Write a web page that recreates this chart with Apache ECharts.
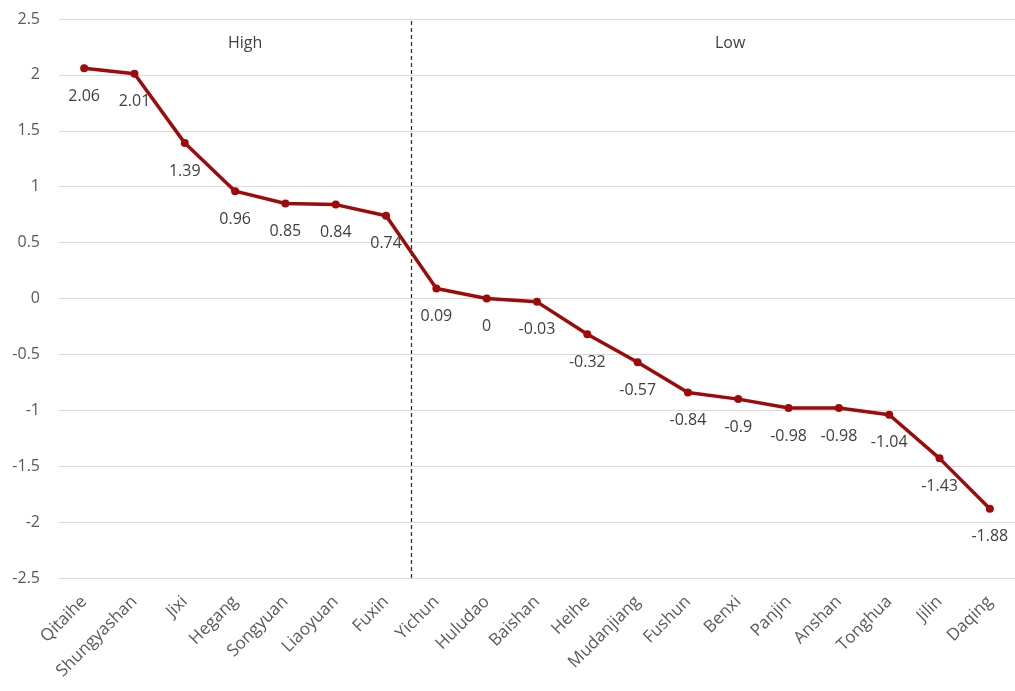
<!DOCTYPE html>
<html><head><meta charset="utf-8">
<script src="https://cdn.jsdelivr.net/npm/echarts@6/dist/echarts.min.js"></script>
<style>html,body{margin:0;padding:0;background:#fff}#c{width:1015px;height:691px}</style>
</head><body><div id="c"></div>
<script>
const categories = ["Qitaihe","Shungyashan","Jixi","Hegang","Songyuan","Liaoyuan","Fuxin","Yichun","Huludao","Baishan","Heihe","Mudanjiang","Fushun","Benxi","Panjin","Anshan","Tonghua","Jilin","Daqing"];
const values = [2.06,2.01,1.39,0.96,0.85,0.84,0.74,0.09,0,-0.03,-0.32,-0.57,-0.84,-0.9,-0.98,-0.98,-1.04,-1.43,-1.88];
const groupLabels = ["High","Low"];
const dividerIndex = 6.5;

const chart = echarts.init(document.getElementById('c'));
const font = '"Open Sans", "Liberation Sans", sans-serif';
chart.setOption({
  animation: false,
  backgroundColor: '#fff',
  grid: {left: 59, right: -3, top: 19, bottom: 113},
  xAxis: [{
    type: 'category', data: categories, boundaryGap: true,
    axisLine: {show: false}, axisTick: {show: false},
    axisLabel: {rotate: 45, interval: 0, color: '#595959', fontSize: 17, fontFamily: font, margin: 21}
  }, {
    type: 'value', min: -0.5, max: categories.length - 0.5, show: false
  }],
  yAxis: {
    type: 'value', min: -2.5, max: 2.5, interval: 0.5,
    axisLine: {show: false}, axisTick: {show: false},
    splitLine: {lineStyle: {color: '#d9d9d9', width: 1}},
    axisLabel: {color: '#595959', fontSize: 16, fontFamily: font, margin: 19}
  },
  series: [{
    type: 'line', data: values,
    symbol: 'circle', symbolSize: 8,
    lineStyle: {color: '#9e0a0a', width: 3.5},
    itemStyle: {color: '#9e0a0a'},
    label: {show: true, position: 'bottom', distance: 16, color: '#404040', fontSize: 16, fontFamily: font}
  }, {
    type: 'line', xAxisIndex: 1, data: [], silent: true,
    markLine: {
      silent: true, symbol: 'none',
      label: {show: false},
      lineStyle: {color: '#333', type: [4, 3], width: 1.3},
      data: [{xAxis: dividerIndex}]
    }
  }],
  graphic: [
    {type: 'text', left: 228, top: 35, style: {text: groupLabels[0], font: '16px ' + font, fill: '#404040'}},
    {type: 'text', left: 715, top: 35, style: {text: groupLabels[1], font: '16px ' + font, fill: '#404040'}}
  ]
});
</script></body></html>
